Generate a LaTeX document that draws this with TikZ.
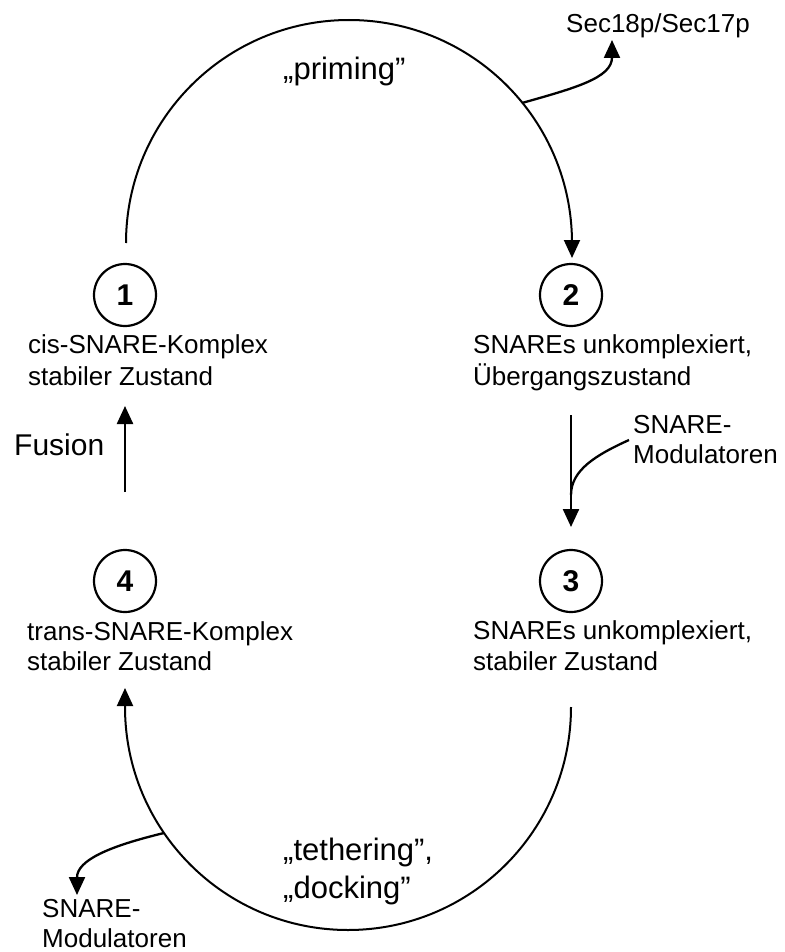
\documentclass[tikz,border=0pt]{standalone}
\usepackage{fontspec}
\setmainfont{Liberation Sans}
\usetikzlibrary{arrows.meta}
\begin{document}
\begin{tikzpicture}[x=1pt,y=1pt,
  lbl/.style={anchor=base west, inner sep=0pt, font=\fontsize{26}{31}\selectfont},
  big/.style={anchor=base west, inner sep=0pt, font=\fontsize{31}{36}\selectfont},
  fus/.style={anchor=base west, inner sep=0pt, font=\fontsize{30}{36}\selectfont},
  state/.style={circle, draw, line width=2.2pt, minimum size=62pt, inner sep=0pt, font=\bfseries\fontsize{30}{36}\selectfont},
  cyc/.style={line width=2pt},
  tip/.style={-{Triangle[length=18pt,width=16pt]}},
  arr/.style={line width=2.4pt, tip},
  ]
\useasboundingbox (0,0) rectangle (784,-952);

% state circles
\node[state] (c1) at (125,-295) {1};
\node[state] (c2) at (571,-295) {2};
\node[state] (c3) at (571,-581) {3};
\node[state] (c4) at (125,-581) {4};

% state texts
\node[lbl] (l1a) at (28,-353) {cis-SNARE-Komplex};
\node[lbl] (l1b) at (28,-385) {stabiler Zustand};
\node[lbl] (l2a) at (473,-353) {SNAREs unkomplexiert,};
\node[lbl] (l2b) at (473,-385) {Übergangszustand};
\node[lbl] (l3a) at (473,-639) {SNAREs unkomplexiert,};
\node[lbl] (l3b) at (473,-670) {stabiler Zustand};
\node[lbl] (l4a) at (27,-640) {trans-SNARE-Komplex};
\node[lbl] (l4b) at (27,-670) {stabiler Zustand};

% other labels
\node[big] (prim) at (283,-80) {„priming”};
\node[lbl] (sec) at (566,-33) {Sec18p/Sec17p};
\node[lbl] (m1a) at (633,-433) {SNARE-};
\node[lbl] (m1b) at (633,-463) {Modulatoren};
\node[lbl] (m2a) at (42,-917) {SNARE-};
\node[lbl] (m2b) at (42,-947) {Modulatoren};
\node[big] (teth) at (283,-860) {„tethering”,};
\node[big] (dock) at (283,-898) {„docking”};
\node[fus] (fus) at (14,-455) {Fusion};

% connector end points
\coordinate (t1) at (126,-243);
\coordinate (t2) at (572,-258);
\coordinate (u1) at (571,-707);
\coordinate (u2) at (125,-688);
\coordinate (b1) at (522,-103);
\coordinate (s1) at (612,-40);
\coordinate (b2) at (164,-833);
\coordinate (s2) at (77,-895);
\coordinate (v1) at (571,-415);
\coordinate (v2) at (571,-527);
\coordinate (j1) at (571,-495);
\coordinate (r1) at (629,-440);
\coordinate (f1) at (125,-492);
\coordinate (f2) at (125,-406);

% priming cycle arc
\draw[cyc, tip] (t1) arc[start angle=180, end angle=0, radius=223pt] -- (t2);
\draw[line width=2.3pt, tip] (b1) .. controls (575,-88) and (612,-78) .. (s1);

% tethering / docking arc
\draw[cyc, tip] (u1) arc[start angle=0, end angle=-180, radius=223pt] -- (u2);
\draw[line width=2.3pt, tip] (b2) .. controls (110,-846) and (77,-860) .. (s2);

% 2 -> 3
\draw[arr] (v1) -- (v2);
\draw[line width=2.3pt] (r1) .. controls (596,-455) and (571,-470) .. (j1);

% Fusion 4 -> 1
\draw[arr] (f1) -- (f2);
\end{tikzpicture}
\end{document}
